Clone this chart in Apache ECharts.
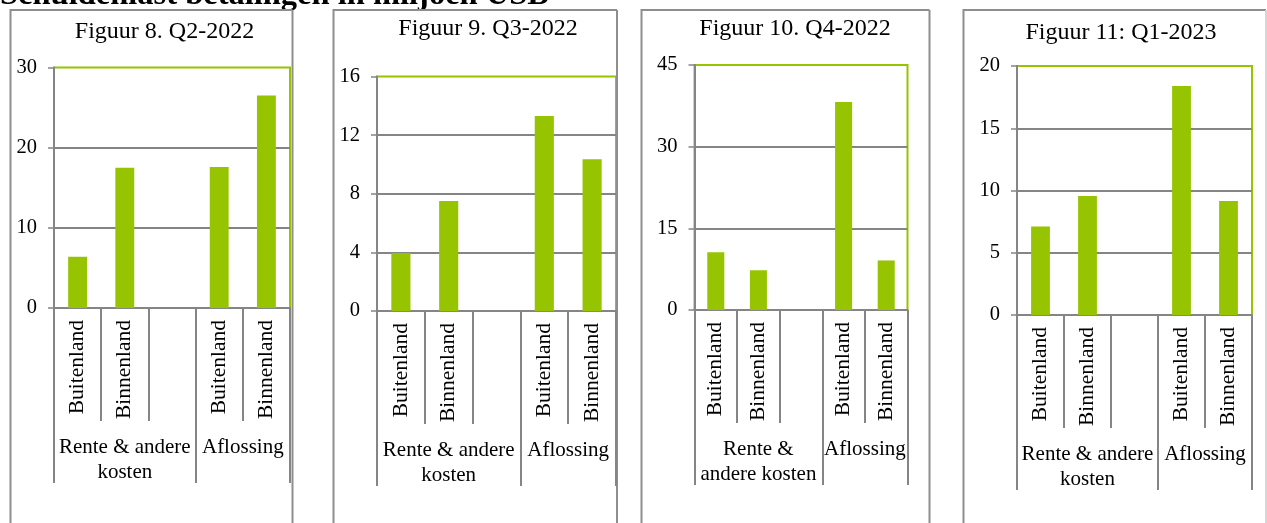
<!DOCTYPE html>
<html><head><meta charset="utf-8">
<script src="https://cdn.jsdelivr.net/npm/echarts@6/dist/echarts.min.js"></script>
<style>html,body{margin:0;padding:0;background:#fff;overflow:hidden}#c{width:1267px;height:523px}</style>
</head><body><div id="c"></div>
<script>
// ---- data ----
const mainTitle = 'Schuldenlast betalingen in miljoen USD';
const panelTitles = ['Figuur 8. Q2-2022', 'Figuur 9. Q3-2022', 'Figuur 10. Q4-2022', 'Figuur 11: Q1-2023'];
const categories = ['Buitenland', 'Binnenland', '', 'Buitenland', 'Binnenland'];
const groupLabels = [
  ['Rente & andere\nkosten', 'Aflossing'],
  ['Rente & andere\nkosten', 'Aflossing'],
  ['Rente &\nandere kosten', 'Aflossing'],
  ['Rente & andere\nkosten', 'Aflossing']
];
const q2_2022 = [6.4, 17.5, null, 17.6, 26.5];
const q3_2022 = [3.95, 7.5, null, 13.3, 10.35];
const q4_2022 = [10.6, 7.3, null, 38.2, 9.1];
const q1_2023 = [7.1, 9.55, null, 18.4, 9.15];
const yMax = [30, 16, 45, 20];
const yStep = [10, 4, 15, 5];

// ---- layout / style ----
const seriesData = [q2_2022, q3_2022, q4_2022, q1_2023];
const layout = [
  { border: [10.5, 292.5], grid: { left: 54, top: 67.5, width: 236, height: 240.5 }, tx: 164.5, ty: 31.5 },
  { border: [333.5, 617], grid: { left: 377, top: 76.5, width: 239, height: 234.5 }, tx: 488, ty: 29 },
  { border: [641.5, 929.5], grid: { left: 694.5, top: 65, width: 213, height: 245 }, tx: 795, ty: 28.5 },
  { border: [963.5, 1266], grid: { left: 1017, top: 66, width: 235, height: 249 }, tx: 1121, ty: 33 }
];
const FONT = '"Liberation Serif", "Times New Roman", serif';
const GREEN = '#96C400';
const GRAY = '#858585';
const BORDER = '#8E8E8E';

const grids = [], xAxes = [], yAxes = [], series = [];
layout.forEach((L, i) => {
  grids.push(Object.assign({ show: true, borderColor: GREEN, borderWidth: 2, backgroundColor: 'transparent', z: -1 }, L.grid));
  xAxes.push({
    type: 'category', gridIndex: i, data: categories, position: 'bottom',
    axisLine: { show: true, lineStyle: { color: GRAY, width: 2 } },
    axisTick: { show: true, interval: 0, length: 113, lineStyle: { color: GRAY, width: 2 } },
    axisLabel: { interval: 0, rotate: 90, margin: 12, color: '#000', fontFamily: FONT, fontSize: 21.5 },
    splitLine: { show: false }
  });
  xAxes.push({
    type: 'category', gridIndex: i, data: categories, position: 'bottom',
    axisLine: { show: false },
    axisTick: { show: true, interval: (idx) => idx === 0 || idx === 3, length: 175, lineStyle: { color: GRAY, width: 2 } },
    axisLabel: { show: false },
    splitLine: { show: false }
  });
  yAxes.push({
    type: 'value', gridIndex: i, min: 0, max: yMax[i], interval: yStep[i],
    axisLine: { show: true, lineStyle: { color: GRAY, width: 2 } },
    axisTick: { show: true, length: 6, lineStyle: { color: GRAY, width: 1.5 } },
    axisLabel: { margin: 17, color: '#000', fontFamily: FONT, fontSize: 20.5 },
    splitLine: { show: true, showMaxLine: false, lineStyle: { color: GRAY, width: 2 } }
  });
  series.push({
    type: 'bar', xAxisIndex: 2 * i, yAxisIndex: i, data: seriesData[i],
    barWidth: '40%', itemStyle: { color: GREEN }, z: 2, animation: false
  });
});

const chart = echarts.init(document.getElementById('c'), null, { renderer: 'canvas' });
chart.setOption({
  animation: false,
  backgroundColor: '#fff',
  grid: grids, xAxis: xAxes, yAxis: yAxes, series: series
});

// static graphics: borders, titles
const graphics = [];
graphics.push({
  type: 'text', x: 0, y: -4,
  style: { text: mainTitle, font: 'bold 32.5px ' + FONT, fill: '#000', verticalAlign: 'middle', align: 'left' }
});
layout.forEach((L, i) => {
  const color = i === 3 ? '#D6D6D6' : BORDER;
  graphics.push({ type: 'polyline', shape: { points: [[L.border[0], 540], [L.border[0], 10], [L.border[1], 10]] }, style: { stroke: BORDER, lineWidth: 2, fill: null } });
  graphics.push({ type: 'line', shape: { x1: L.border[1], y1: 10, x2: L.border[1], y2: 540 }, style: { stroke: color, lineWidth: 2 } });
  graphics.push({
    type: 'text', x: L.tx, y: L.ty,
    style: { text: panelTitles[i], font: '24px ' + FONT, fill: '#000', align: 'center', verticalAlign: 'middle' }
  });
  // group labels placed via axis scales
  const y0 = chart.convertToPixel({ yAxisIndex: i }, 0);
  const g1 = chart.convertToPixel({ xAxisIndex: 2 * i }, 1);
  const g2 = (chart.convertToPixel({ xAxisIndex: 2 * i }, 3) + chart.convertToPixel({ xAxisIndex: 2 * i }, 4)) / 2;
  [g1, g2].forEach((gx, k) => {
    graphics.push({
      type: 'text', x: gx, y: y0 + 126.5,
      style: { text: groupLabels[i][k], font: '21px ' + FONT, fill: '#000', align: 'center', verticalAlign: 'top', lineHeight: 25 }
    });
  });
});
chart.setOption({ graphic: graphics });
</script>
</body></html>
